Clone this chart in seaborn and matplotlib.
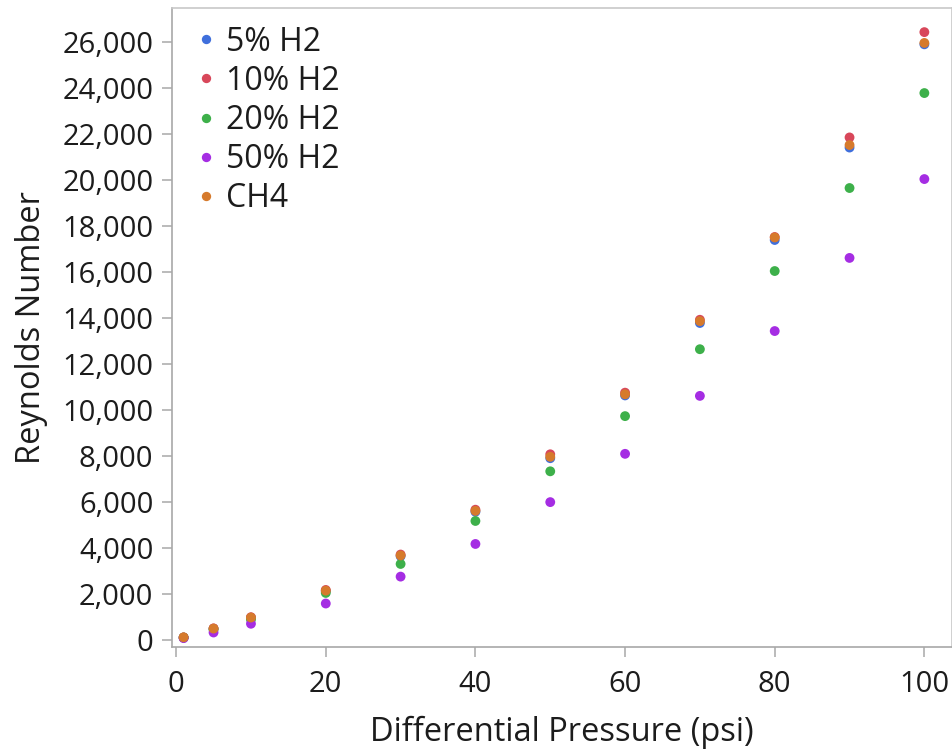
import matplotlib
matplotlib.use("Agg")
import matplotlib.pyplot as plt
import matplotlib.ticker as mticker
import numpy as np
import pandas as pd
import seaborn as sns

# Differential pressure (psi) at which each blend was evaluated
pressure = [1, 5, 10, 20, 30, 40, 50, 60, 70, 80, 90, 100]

# Reynolds number for each gas blend
re_5 = [100, 480, 960, 2120, 3640, 5570, 7900, 10630, 13780, 17390, 21410, 25900]
re_10 = [105, 500, 985, 2170, 3710, 5660, 8070, 10750, 13920, 17520, 21850, 26430]
re_20 = [95, 450, 890, 2040, 3300, 5170, 7330, 9730, 12640, 16040, 19650, 23780]
re_50 = [75, 320, 700, 1580, 2750, 4170, 5990, 8090, 10610, 13430, 16610, 20040]
re_ch4 = [110, 490, 970, 2140, 3670, 5610, 7960, 10680, 13860, 17500, 21520, 25960]

series_names = ["5% H2", "10% H2", "20% H2", "50% H2", "CH4"]
series_values = [re_5, re_10, re_20, re_50, re_ch4]
colors = ["#3f6fdc", "#d8475a", "#3db04a", "#a52de3", "#d67a2c"]

df = pd.concat(
    [pd.DataFrame({"Differential Pressure (psi)": pressure,
                   "Reynolds Number": vals,
                   "Gas": name})
     for name, vals in zip(series_names, series_values)],
    ignore_index=True,
)

sns.set_theme(style="white")
plt.rcParams["font.family"] = ["Open Sans", "DejaVu Sans"]

fig = plt.figure(figsize=(9.53, 7.53), dpi=100)
ax = fig.add_axes([0.1805, 0.1408, 0.8185, 0.8486])

sns.scatterplot(
    data=df, x="Differential Pressure (psi)", y="Reynolds Number",
    hue="Gas", hue_order=series_names, palette=colors,
    s=50, linewidth=0, ax=ax, legend=True,
)

ax.set_xlim(-0.55, 103.7)
ax.set_ylim(-310, 27480)
ax.set_xticks([0, 20, 40, 60, 80, 100])
ax.set_yticks(np.arange(0, 26001, 2000))
ax.yaxis.set_major_formatter(mticker.FuncFormatter(lambda v, p: f"{int(v):,}"))

spine_color = "#a8a8a8"
for name, sp in ax.spines.items():
    sp.set_color(spine_color if name in ("left", "bottom") else "#c8c8c8")
    sp.set_linewidth(1.2)

text_color = "#1c1c1c"
ax.tick_params(axis="both", which="major", direction="out", length=7.5,
               width=1.1, color=spine_color, labelsize=21, labelcolor=text_color,
               left=True, bottom=True)
ax.tick_params(axis="y", pad=6)
ax.tick_params(axis="x", pad=9)

ax.set_xlabel("Differential Pressure (psi)", fontsize=23.5, color=text_color, labelpad=12)
ax.set_ylabel("Reynolds Number", fontsize=23.5, color=text_color, labelpad=10)

leg = ax.legend(loc="upper left", frameon=False, fontsize=23, markerscale=0.95,
                handletextpad=0.15, labelspacing=0.19, borderaxespad=0.3,
                handlelength=1.0, borderpad=0.25)
for t in leg.get_texts():
    t.set_color(text_color)

fig.savefig("out.png", dpi=100)
